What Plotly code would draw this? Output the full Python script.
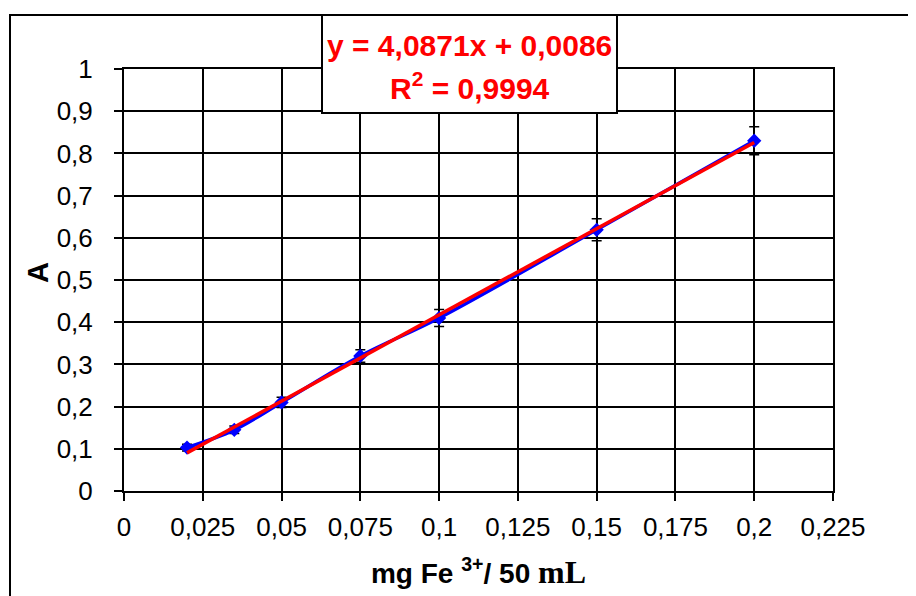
import plotly.graph_objects as go

# ---- data ----
conc = [0.02, 0.035, 0.05, 0.075, 0.1, 0.15, 0.2]
absorb = [0.103, 0.145, 0.21, 0.32, 0.41, 0.619, 0.83]
err = [0.008, 0.009, 0.012, 0.015, 0.02, 0.026, 0.033]
slope = 4.0871
intercept = 0.0086
r2_text = "0,9994"
eq_text = "4,0871x + 0,0086"

x_tickvals = [0, 0.025, 0.05, 0.075, 0.1, 0.125, 0.15, 0.175, 0.2, 0.225]
x_ticktext = ["0", "0,025", "0,05", "0,075", "0,1", "0,125", "0,15", "0,175", "0,2", "0,225"]
y_tickvals = [0, 0.1, 0.2, 0.3, 0.4, 0.5, 0.6, 0.7, 0.8, 0.9, 1.0]
y_ticktext = ["0", "0,1", "0,2", "0,3", "0,4", "0,5", "0,6", "0,7", "0,8", "0,9", "1"]

trend_x = [conc[0], conc[-1]]
trend_y = [slope * v + intercept for v in trend_x]

# page layout (page pixel coordinates; page body has an 8px margin)
W, H = 916, 596
OFF = 8
PL, PR, PT, PB = 124, 833, 69, 491  # plot area on page
L = PL - OFF
R = (W + OFF) - PR
T = PT - OFF
B = (H + OFF) - PB
pw, ph = PR - PL, PB - PT

def px(xp):
    return (xp - PL) / pw

def py(yp):
    return (PB - yp) / ph

fig = go.Figure()
fig.add_trace(go.Scatter(
    x=conc, y=absorb, mode="lines+markers",
    line=dict(color="#0000ff", width=3.5, shape="spline"),
    marker=dict(symbol="diamond", size=11, color="#0000ff"),
    error_y=dict(type="data", array=err, visible=True, color="black", thickness=1.5, width=5),
    showlegend=False,
))
fig.add_trace(go.Scatter(
    x=trend_x, y=trend_y, mode="lines",
    line=dict(color="#ff0000", width=3.5),
    showlegend=False,
))

font_sans = "Liberation Sans, Arial, sans-serif"

fig.update_layout(
    width=W, height=H,
    margin=dict(l=L, r=R, t=T, b=B),
    paper_bgcolor="white", plot_bgcolor="white",
    font=dict(family=font_sans, color="black", size=26),
    xaxis=dict(
        range=[0, 0.225], tickvals=x_tickvals, ticktext=x_ticktext,
        showgrid=True, gridcolor="black", gridwidth=2,
        showline=True, linecolor="black", linewidth=2, mirror=True,
        ticks="outside", ticklen=8, tickwidth=1.5, tickcolor="black",
        ticklabelstandoff=4, zeroline=False,
        tickfont=dict(size=26, family=font_sans),
        title=dict(
            text="<b>mg Fe <sup>3+</sup>/ 50 <span style='font-family:Liberation Serif, Times New Roman, serif;font-size:32px'>mL</span></b>",
            font=dict(size=28, family=font_sans), standoff=22),
    ),
    yaxis=dict(
        range=[0, 1], tickvals=y_tickvals, ticktext=y_ticktext,
        showgrid=True, gridcolor="black", gridwidth=2,
        showline=True, linecolor="black", linewidth=2, mirror=True,
        ticks="outside", ticklen=8, tickwidth=1.5, tickcolor="black",
        ticklabelstandoff=16, zeroline=False,
        tickfont=dict(size=26, family=font_sans),
    ),
    shapes=[
        dict(type="rect", xref="paper", yref="paper",
             x0=px(10), x1=px(960), y0=py(660), y1=py(15),
             line=dict(color="black", width=2), fillcolor="rgba(0,0,0,0)", layer="below"),
        dict(type="rect", xref="paper", yref="paper",
             x0=px(322), x1=px(617), y0=py(113), y1=py(15),
             line=dict(color="black", width=2), fillcolor="white", layer="above"),
    ],
    annotations=[
        dict(xref="paper", yref="paper", x=px(38), y=py(273), showarrow=False,
             text="<b>A</b>", textangle=-90, font=dict(size=29, color="black", family=font_sans),
             xanchor="center", yanchor="middle"),
        dict(xref="paper", yref="paper", x=px(469.5), y=py(45), showarrow=False,
             text="<b>y = " + eq_text + "</b>", font=dict(size=30, color="#ff0000", family=font_sans),
             xanchor="center", yanchor="middle"),
        dict(xref="paper", yref="paper", x=px(469.5), y=py(86), showarrow=False,
             text="<b>R<sup>2</sup> = " + r2_text + "</b>", font=dict(size=30, color="#ff0000", family=font_sans),
             xanchor="center", yanchor="middle"),
    ],
)

fig.write_html("out.html")
